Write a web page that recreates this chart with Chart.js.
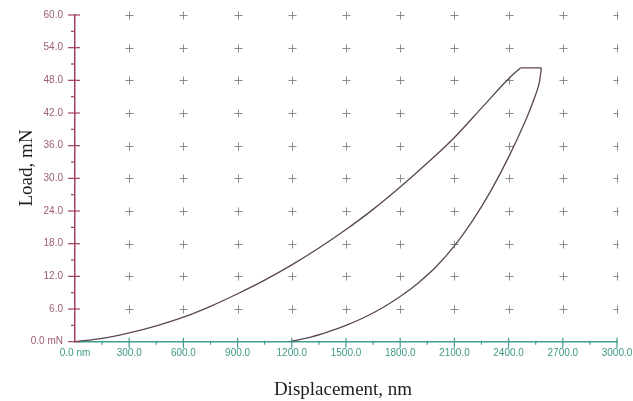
<!DOCTYPE html>
<html>
<head>
<meta charset="utf-8">
<script src="https://cdn.jsdelivr.net/npm/chart.js@4.4.1/dist/chart.umd.min.js"></script>
<style>
  html, body { margin: 0; padding: 0; background: #fff; }
  #wrap { width: 633px; height: 401px; }
</style>
</head>
<body>
<div id="wrap"><canvas id="chartCanvas" width="633" height="401"></canvas></div>
<script>
// tick values and labels
const xTicks = [0, 300, 600, 900, 1200, 1500, 1800, 2100, 2400, 2700, 3000];
const xTickLabels = ['0.0 nm', '300.0', '600.0', '900.0', '1200.0', '1500.0', '1800.0', '2100.0', '2400.0', '2700.0', '3000.0'];
const yTicks = [0, 6, 12, 18, 24, 30, 36, 42, 48, 54, 60];
const yTickLabels = ['0.0 mN', '6.0', '12.0', '18.0', '24.0', '30.0', '36.0', '42.0', '48.0', '54.0', '60.0'];

// loading curve (nm, mN)
const loadDisp = [0, 150, 300, 450, 600, 750, 900, 1050, 1200, 1350, 1500, 1650, 1800, 1950, 2100, 2250, 2400, 2467];
const loadForce = [0, 0.6, 1.6, 2.9, 4.5, 6.5, 8.8, 11.3, 14.1, 17.2, 20.6, 24.3, 28.4, 32.8, 37.5, 42.9, 48.3, 50.3];

// hold at peak load
const holdDisp = [2467, 2581];
const holdForce = [50.3, 50.3];

// unloading curve, listed by increasing displacement
const unloadDisp = [1190, 1300, 1400, 1500, 1600, 1700, 1800, 1900, 2000, 2100, 2200, 2300, 2400, 2500, 2550, 2570, 2581];
const unloadForce = [0, 0.8, 1.8, 3.0, 4.45, 6.2, 8.3, 10.8, 13.8, 17.6, 22.2, 27.6, 33.9, 41.1, 45.4, 47.6, 50.3];

const toPoints = (xs, ys) => xs.map((x, i) => ({ x: x, y: ys[i] }));

const yAxisColor = '#a3405e';
const yLabelColor = '#9a5c6c';
const xAxisColor = '#3f9e8c';
const xLabelColor = '#3c9887';
const curveColor = '#5a4650';

// gray crosses on the grid + tick marks + axis titles
const marks = {
  id: 'marks',
  beforeDatasetsDraw(chart) {
    const { ctx, chartArea, scales: { x, y } } = chart;
    ctx.save();
    ctx.beginPath();
    ctx.rect(chartArea.left, 0, chartArea.right - chartArea.left + 1.5, chartArea.bottom);
    ctx.clip();
    ctx.strokeStyle = '#8c8c8c';
    ctx.lineWidth = 1;
    xTicks.slice(1).forEach(xv => {
      yTicks.slice(1).forEach(yv => {
        const px = Math.round(x.getPixelForValue(xv)) + 0.5;
        const py = Math.round(y.getPixelForValue(yv)) + 0.5;
        ctx.beginPath();
        ctx.moveTo(px - 4, py);
        ctx.lineTo(px + 4, py);
        ctx.moveTo(px, py - 4);
        ctx.lineTo(px, py + 4);
        ctx.stroke();
      });
    });
    ctx.restore();
  },
  afterDraw(chart) {
    const { ctx, chartArea, scales: { x, y } } = chart;
    ctx.save();
    ctx.lineWidth = 1.2;
    // y ticks
    ctx.strokeStyle = yAxisColor;
    const ax = chartArea.left;
    yTicks.forEach((v, i) => {
      const py = y.getPixelForValue(v);
      ctx.beginPath();
      ctx.moveTo(ax - 7, py);
      ctx.lineTo(ax + 5, py);
      ctx.stroke();
      if (i < yTicks.length - 1) {
        const pm = y.getPixelForValue((v + yTicks[i + 1]) / 2);
        ctx.beginPath();
        ctx.moveTo(ax - 4, pm);
        ctx.lineTo(ax, pm);
        ctx.stroke();
      }
    });
    // x ticks
    ctx.strokeStyle = xAxisColor;
    const ay = chartArea.bottom;
    xTicks.forEach((v, i) => {
      const px = x.getPixelForValue(v);
      if (i > 0) {
        ctx.beginPath();
        ctx.moveTo(px, ay - 4);
        ctx.lineTo(px, ay + 6);
        ctx.stroke();
      }
      if (i < xTicks.length - 1) {
        const pm = x.getPixelForValue((v + xTicks[i + 1]) / 2);
        ctx.beginPath();
        ctx.moveTo(pm, ay - 1);
        ctx.lineTo(pm, ay + 3);
        ctx.stroke();
      }
    });
    // axis titles
    ctx.fillStyle = '#1e1e1e';
    ctx.font = '19px "Liberation Serif", "Times New Roman", serif';
    ctx.textAlign = 'center';
    ctx.textBaseline = 'alphabetic';
    ctx.fillText('Displacement, nm', 343, 395);
    ctx.translate(32, 168);
    ctx.rotate(-Math.PI / 2);
    ctx.fillText('Load, mN', 0, 0);
    ctx.restore();
  }
};

const ctx = document.getElementById('chartCanvas').getContext('2d');
const chart = new Chart(ctx, {
  type: 'line',
  data: {
    datasets: [
      { data: toPoints(loadDisp, loadForce), cubicInterpolationMode: 'monotone' },
      { data: toPoints(holdDisp, holdForce), tension: 0 },
      { data: toPoints(unloadDisp, unloadForce), tension: 0.4 }
    ].map(d => Object.assign(d, {
      borderColor: curveColor,
      borderWidth: 1.3,
      pointRadius: 0,
      fill: false
    }))
  },
  options: {
    responsive: false,
    animation: false,
    layout: { padding: { top: 15, right: 16, left: 0, bottom: 0 } },
    plugins: {
      legend: { display: false },
      tooltip: { enabled: false }
    },
    scales: {
      x: {
        type: 'linear',
        min: 0,
        max: 3000,
        afterBuildTicks: s => { s.ticks = xTicks.map(v => ({ value: v })); },
        afterFit: s => { s.height = 59.3; s.paddingLeft = 0; s.paddingRight = 0; },
        grid: { display: false, drawTicks: false },
        border: { display: true, color: xAxisColor, width: 1.5 },
        ticks: {
          padding: 6,
          maxRotation: 0,
          autoSkip: false,
          color: xLabelColor,
          font: { family: 'Liberation Sans', size: 10 },
          callback: (v, i) => xTickLabels[i]
        }
      },
      y: {
        type: 'linear',
        min: 0,
        max: 60,
        afterBuildTicks: s => { s.ticks = yTicks.map(v => ({ value: v })); },
        afterFit: s => { s.width = 75; s.paddingTop = 0; s.paddingBottom = 0; },
        grid: { display: false, drawTicks: false },
        border: { display: true, color: yAxisColor, width: 1.5 },
        ticks: {
          padding: 12,
          autoSkip: false,
          color: yLabelColor,
          font: { family: 'Liberation Sans', size: 10 },
          callback: (v, i) => yTickLabels[i]
        }
      }
    }
  },
  plugins: [marks]
});
</script>
</body>
</html>
